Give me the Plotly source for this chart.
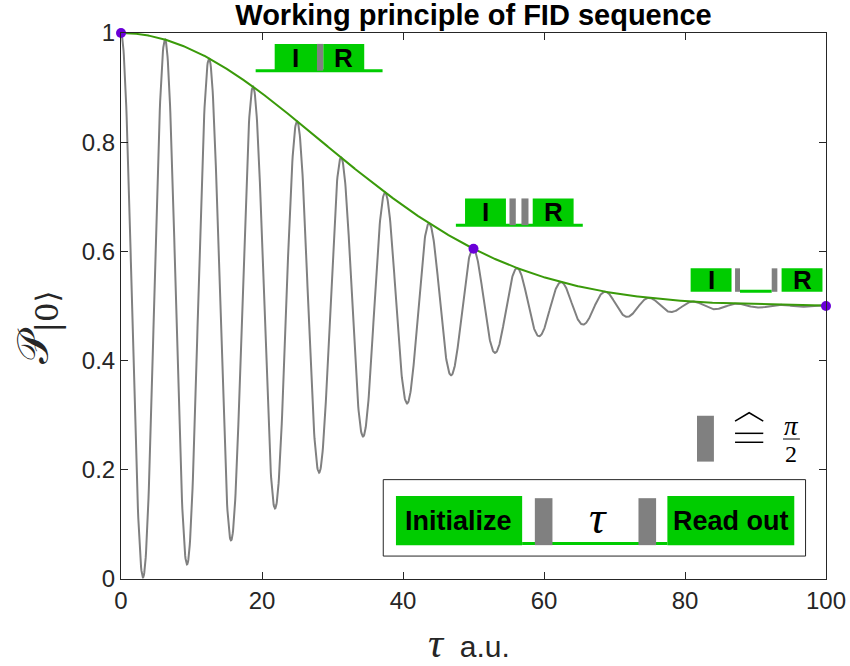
import numpy as np
import plotly.graph_objects as go

# Free induction decay: Ramsey fringes under a Gaussian envelope
tau_max = 100.0
fringe_period = 6.25      # oscillation period (a.u.)
decay_time = 40.0         # Gaussian decay constant T2* (a.u.)

# highlighted delays and their envelope values
marker_tau = [0, 50, 100]
marker_p = [1.0, 0.605, 0.5]

x_ticks = [0, 20, 40, 60, 80, 100]
x_tick_labels = ["0", "20", "40", "60", "80", "100"]
y_ticks = [0, 0.2, 0.4, 0.6, 0.8, 1.0]
y_tick_labels = ["0", "0.2", "0.4", "0.6", "0.8", "1"]

tau = np.linspace(0, tau_max, 2001)
envelope = 0.5 + 0.5 * np.exp(-(tau / decay_time) ** 2)
fringes = 0.5 + 0.5 * np.exp(-(tau / decay_time) ** 2) * np.cos(2 * np.pi * tau / fringe_period)

GREEN = "#00CC00"
GRAY = "#808080"
AX = "#262626"

fig = go.Figure()
fig.add_trace(go.Scatter(x=tau, y=fringes, mode="lines",
                         line=dict(color=GRAY, width=2), hoverinfo="skip"))
fig.add_trace(go.Scatter(x=tau, y=envelope, mode="lines",
                         line=dict(color="#3A9A0A", width=2), hoverinfo="skip"))
fig.add_trace(go.Scatter(x=marker_tau, y=marker_p, mode="markers", cliponaxis=False,
                         marker=dict(color="#6A00D8", size=10)))

shapes = []
annots = []


def rect(x0, x1, y0, y1, color, line=None):
    shapes.append(dict(type="rect", xref="x", yref="y", x0=x0, x1=x1, y0=y0, y1=y1,
                       fillcolor=color, line=line or dict(width=0), layer="above"))


def hline(x0, x1, y, color=GREEN, width=3):
    shapes.append(dict(type="line", xref="x", yref="y", x0=x0, x1=x1, y0=y, y1=y,
                       line=dict(color=color, width=width), layer="above"))


def label(x, y, text, size=26, bold=True, family="Liberation Sans", color="black"):
    annots.append(dict(x=x, y=y, xref="x", yref="y", text=f"<b>{text}</b>" if bold else text,
                       showarrow=False, xanchor="center", yanchor="middle",
                       font=dict(family=family, size=size, color=color)))


# sequence sketch at tau = 0
hline(19.1, 37.1, 0.931)
rect(21.8, 27.8, 0.931, 0.980, GREEN)
rect(27.8, 28.7, 0.931, 0.980, GRAY)
rect(28.7, 34.5, 0.931, 0.980, GREEN)
label(24.8, 0.955, "I")
label(31.6, 0.955, "R")

# sequence sketch at tau = 50
hline(47.5, 65.5, 0.648)
rect(48.8, 54.6, 0.648, 0.697, GREEN)
rect(55.1, 56.0, 0.648, 0.697, GRAY)
rect(56.8, 57.8, 0.648, 0.697, GRAY)
rect(58.4, 64.2, 0.648, 0.697, GREEN)
label(51.7, 0.672, "I")
label(61.3, 0.672, "R")

# sequence sketch at tau = 100
hline(87.8, 92.3, 0.527)
rect(80.8, 86.6, 0.526, 0.569, GREEN)
rect(87.1, 87.8, 0.526, 0.569, GRAY)
rect(92.3, 93.1, 0.526, 0.569, GRAY)
rect(93.7, 99.5, 0.526, 0.569, GREEN)
label(83.7, 0.548, "I")
label(96.6, 0.548, "R")

# pulse legend: grey bar corresponds to a pi/2 pulse
rect(81.7, 84.1, 0.215, 0.299, GRAY)
shapes.append(dict(type="path", xref="x", yref="y", layer="above",
                   path="M 87.1,0.289 L 89.1,0.3045 L 91.1,0.289",
                   line=dict(color="black", width=1.5)))
hline(87.1, 91.1, 0.2668, color="black", width=1.5)
hline(87.1, 91.1, 0.2504, color="black", width=1.5)
label(95.1, 0.281, "<i>π</i>", size=27, bold=False, family="Liberation Serif")
hline(93.9, 96.3, 0.2564, color="black", width=1)
label(95.1, 0.229, "2", size=24, bold=False, family="Liberation Serif")

# full FID sequence box
rect(37.2, 97.1, 0.042, 0.182, "white", line=dict(color=AX, width=1))
hline(56.9, 77.5, 0.065)
rect(39.0, 56.9, 0.062, 0.152, GREEN)
rect(58.7, 61.2, 0.062, 0.148, GRAY)
rect(73.4, 75.9, 0.062, 0.148, GRAY)
rect(77.5, 95.5, 0.062, 0.152, GREEN)
label(47.9, 0.107, "Initialize", size=27)
label(86.5, 0.107, "Read out", size=27)
label(67.6, 0.112, "<i>τ</i>", size=46, bold=False, family="Liberation Serif")

# axis labels
annots.append(dict(xref="paper", yref="paper", x=-0.12, y=0.4615, textangle=-90,
                   xanchor="center", yanchor="middle",
                   text="𝒫<sub>|0⟩</sub>", showarrow=False,
                   font=dict(family="DejaVu Serif", size=44, color=AX)))
annots.append(dict(xref="paper", yref="paper", x=0.494, y=-0.117,
                   xanchor="center", yanchor="middle",
                   text="<span style='font-family:Liberation Serif;font-size:42px'><i>τ</i></span>  a.u.",
                   showarrow=False, font=dict(family="Liberation Sans", size=30, color=AX)))

fig.update_layout(
    width=850, height=666,
    margin=dict(l=121, r=24, t=33, b=87),
    plot_bgcolor="white", paper_bgcolor="white",
    showlegend=False,
    title=dict(text="<b>Working principle of FID sequence</b>", x=0.5, xref="paper",
               xanchor="center", y=1 - 15 / 666, yanchor="middle",
               font=dict(family="Liberation Sans", size=29, color="black")),
    shapes=shapes, annotations=annots,
    xaxis=dict(range=[0, 100], tickvals=x_ticks, ticktext=x_tick_labels, automargin=False,
               showline=True, mirror="ticks", linecolor=AX, linewidth=1,
               ticks="inside", ticklen=7, tickcolor=AX, showgrid=False, zeroline=False,
               tickfont=dict(family="Liberation Sans", size=24, color=AX)),
    yaxis=dict(range=[0, 1], tickvals=y_ticks, ticktext=y_tick_labels, automargin=False,
               showline=True, mirror="ticks", linecolor=AX, linewidth=1,
               ticks="inside", ticklen=7, tickcolor=AX, showgrid=False, zeroline=False,
               tickfont=dict(family="Liberation Sans", size=24, color=AX)),
)

fig.write_html("out.html")
